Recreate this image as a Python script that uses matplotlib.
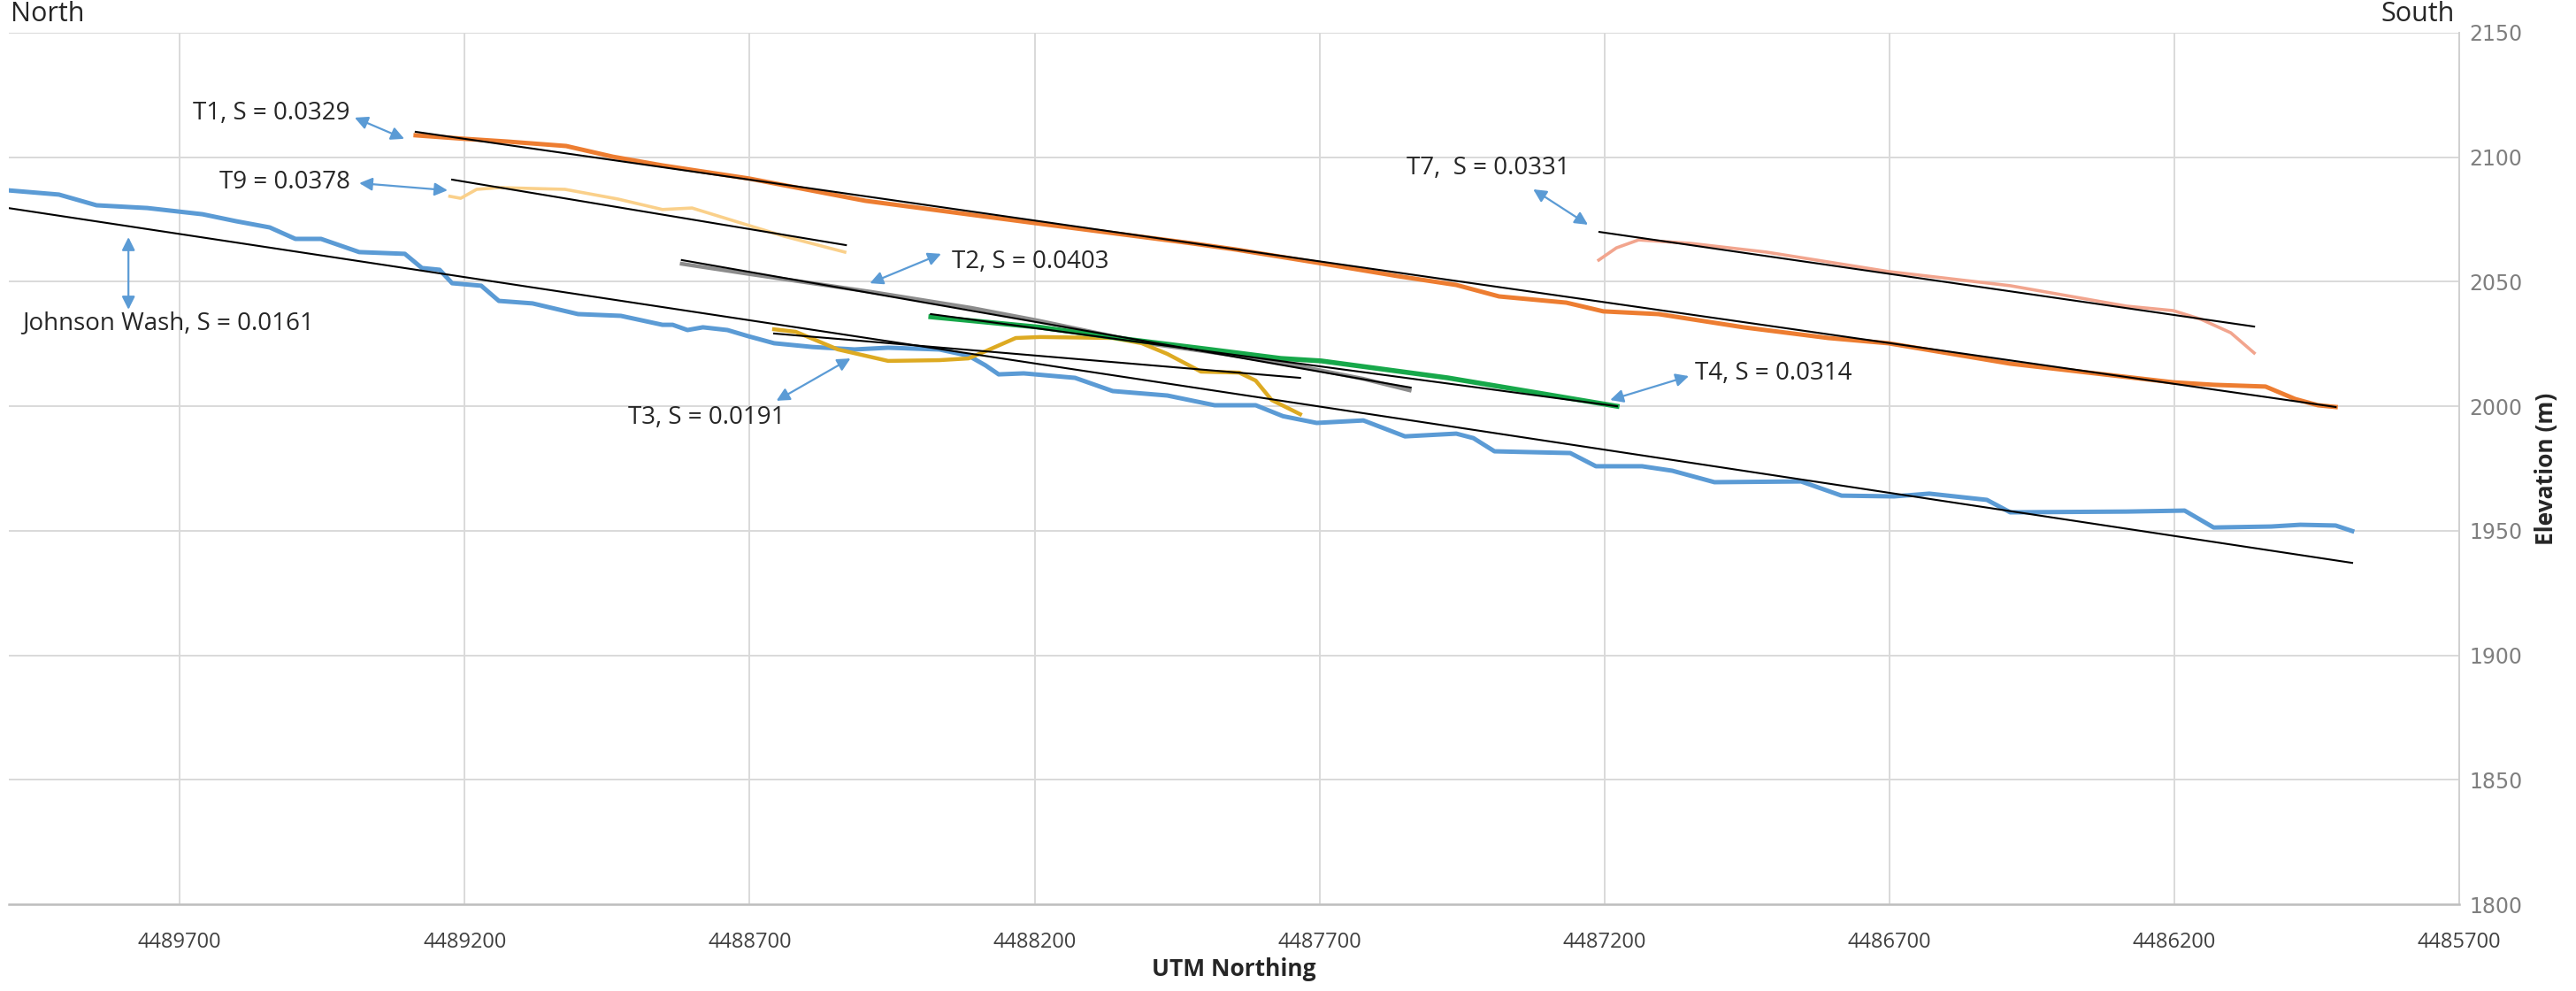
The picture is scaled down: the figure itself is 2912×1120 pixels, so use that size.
import numpy as np
import matplotlib
matplotlib.use("Agg")
import matplotlib.pyplot as plt

NARROW = ["Liberation Sans Narrow", "Open Sans", "DejaVu Sans"]

# Johnson Wash main channel profile (UTM northing, elevation m)
jw_x = [4490001, 4489912, 4489846, 4489757, 4489660, 4489601, 4489542, 4489497,
        4489452, 4489385, 4489305, 4489275, 4489244, 4489222, 4489171, 4489140,
        4489081, 4489001, 4488926, 4488853, 4488835, 4488809, 4488782, 4488739,
        4488702, 4488657, 4488590, 4488516, 4488457, 4488367, 4488316, 4488286,
        4488263, 4488219, 4488129, 4488063, 4487967, 4487884, 4487812, 4487764,
        4487705, 4487623, 4487550, 4487460, 4487430, 4487393, 4487260, 4487215,
        4487134, 4487081, 4487007, 4486855, 4486784, 4486692, 4486630, 4486529,
        4486488, 4486284, 4486182, 4486131, 4486030, 4485979, 4485917, 4485888]
jw_y = [2086.7, 2085.0, 2080.7, 2079.6, 2077.1, 2074.3, 2071.8, 2067.2,
        2067.2, 2061.9, 2061.2, 2055.5, 2054.8, 2049.4, 2048.4, 2042.3,
        2041.3, 2037.0, 2036.3, 2032.7, 2032.7, 2030.6, 2031.7, 2030.6,
        2028.1, 2025.3, 2023.8, 2022.8, 2023.5, 2022.8, 2020.3, 2016.4,
        2012.8, 2013.2, 2011.4, 2006.1, 2004.3, 2000.4, 2000.4, 1996.0,
        1993.3, 1994.3, 1987.9, 1989.0, 1987.2, 1981.9, 1981.2, 1975.9,
        1975.9, 1974.1, 1969.5, 1969.8, 1964.1, 1963.8, 1964.9, 1962.4,
        1957.4, 1957.7, 1958.1, 1951.3, 1951.7, 1952.4, 1952.1, 1949.9]

# terrace profiles
t1_x = [4489286, 4489201, 4489126, 4489022, 4488940, 4488853, 4488700, 4488497,
        4488201, 4487923, 4487846, 4487703, 4487564, 4487460, 4487385, 4487267,
        4487202, 4487105, 4486956, 4486807, 4486702, 4486488, 4486202, 4486131,
        4486040, 4485988, 4485948, 4485917]
t1_y = [2108.8, 2107.4, 2106.3, 2104.5, 2100.2, 2096.7, 2091.4, 2082.5,
        2073.6, 2065.4, 2062.9, 2057.6, 2052.3, 2048.7, 2044.1, 2041.6,
        2038.1, 2037.0, 2031.7, 2027.4, 2025.3, 2017.1, 2009.6, 2008.6,
        2007.9, 2002.9, 2000.4, 1999.7]

t9_x = [4489226, 4489207, 4489179, 4489140, 4489024, 4488931, 4488853, 4488801,
        4488700, 4488640, 4488533]
t9_y = [2084.3, 2083.5, 2087.1, 2087.8, 2087.1, 2083.2, 2079.0, 2079.6,
        2072.5, 2068.3, 2061.9]

t2_x = [4488819, 4488698, 4488486, 4488311, 4488196, 4488004, 4487846, 4487734,
        4487623, 4487542]
t2_y = [2057.2, 2053.0, 2045.9, 2039.5, 2034.5, 2025.3, 2020.3, 2016.0,
        2011.0, 2006.4]

t3_x = [4488657, 4488619, 4488545, 4488457, 4488367, 4488316, 4488286, 4488233,
        4488190, 4488063, 4488012, 4487967, 4487908, 4487841, 4487812, 4487784,
        4487734]
t3_y = [2030.9, 2029.9, 2022.8, 2018.2, 2018.5, 2019.2, 2022.1, 2027.4,
        2027.8, 2027.4, 2025.3, 2021.0, 2013.9, 2013.5, 2010.3, 2002.5,
        1996.8]

t4_x = [4488382, 4488190, 4488041, 4487892, 4487768, 4487697, 4487475, 4487326,
        4487178]
t4_y = [2035.9, 2031.7, 2027.0, 2022.8, 2019.2, 2018.2, 2011.4, 2005.7,
        2000.0]

t7_x = [4487210, 4487179, 4487140, 4487049, 4486916, 4486702, 4486488, 4486284,
        4486202, 4486153, 4486101, 4486060]
t7_y = [2058.7, 2063.6, 2066.8, 2065.4, 2061.9, 2054.1, 2048.4, 2040.2,
        2038.4, 2034.9, 2029.5, 2021.4]

# linear trend endpoints for each profile
trend_x = {"JW": [4490001, 4485888], "T1": [4489286, 4485917], "T9": [4489222, 4488531],
           "T2": [4488819, 4487540], "T3": [4488657, 4487734], "T4": [4488382, 4487178],
           "T7": [4487209, 4486060]}
trend_y = {"JW": [2079.6, 1937.1], "T1": [2110.2, 1999.7], "T9": [2091.0, 2064.7],
           "T2": [2058.7, 2007.5], "T3": [2029.2, 2011.4], "T4": [2037.0, 2000.0],
           "T7": [2070.0, 2032.0]}

labels = ["T1, S = 0.0329", "T9 = 0.0378", "Johnson Wash, S = 0.0161", "T2, S = 0.0403",
          "T3, S = 0.0191", "T4, S = 0.0314", "T7,  S = 0.0331"]

x_ticks = [4489700, 4489200, 4488700, 4488200, 4487700, 4487200, 4486700, 4486200, 4485700]
y_ticks = [1800, 1850, 1900, 1950, 2000, 2050, 2100, 2150]

fig = plt.figure(figsize=(14.56, 5.6), dpi=200)
ax = fig.add_axes([0.0034, 0.0875, 0.9513, 0.8795])

ax.plot(jw_x, jw_y, color="#5B9BD5", lw=1.8, zorder=3)
ax.plot(t9_x, t9_y, color="#FAD08A", lw=1.3, zorder=3)
ax.plot(t1_x, t1_y, color="#ED7D31", lw=1.8, zorder=3)
ax.plot(t2_x, t2_y, color="#8C8C8C", lw=1.6, zorder=3)
ax.plot(t3_x, t3_y, color="#DDAA22", lw=1.6, zorder=3)
ax.plot(t4_x, t4_y, color="#17A84A", lw=2.0, zorder=3)
ax.plot(t7_x, t7_y, color="#F2A58E", lw=1.3, zorder=3)
for key in trend_x:
    ax.plot(trend_x[key], trend_y[key], color="black", lw=0.75, zorder=4)

# annotation text and double-headed arrows
ann = [
    (labels[0], (4489401, 2117.6), "right", (4489393, 2115.9), (4489306, 2107.4)),
    (labels[1], (4489401, 2090.0), "right", (4489385, 2089.6), (4489230, 2086.7)),
    (labels[2], (4489976, 2033.4), "left", (4489790, 2067.9), (4489790, 2038.8)),
    (labels[3], (4488345, 2058.0), "left", (4488489, 2049.4), (4488364, 2061.2)),
    (labels[4], (4488638, 1995.4), "right", (4488653, 2002.2), (4488523, 2019.2)),
    (labels[5], (4487041, 2013.2), "left", (4487190, 2002.5), (4487052, 2012.1)),
    (labels[6], (4487260, 2095.6), "right", (4487325, 2087.1), (4487229, 2072.9)),
]
for text, (tx, ty), ha, a0, a1 in ann:
    ax.text(tx, ty, text, ha=ha, va="center", fontsize=10, family=NARROW,
            color="#262626", zorder=5)
    ax.annotate("", xy=a1, xytext=a0,
                arrowprops=dict(arrowstyle="<|-|>", color="#5B9BD5", lw=0.8,
                                mutation_scale=11, shrinkA=0, shrinkB=0), zorder=5)

ax.set_xlim(4490000, 4485700)
ax.set_ylim(1800, 2150)
ax.set_xticks(x_ticks)
ax.set_yticks(y_ticks)
ax.set_xticklabels([str(v) for v in x_ticks], family=NARROW, fontsize=8.5, color="#404040")
ax.yaxis.tick_right()
ax.yaxis.set_label_position("right")
ax.set_yticklabels([str(v) for v in y_ticks], family="DejaVu Sans", fontsize=8.5, color="#7F7F7F")
ax.tick_params(axis="x", length=0, pad=11)
ax.tick_params(axis="y", length=0, pad=4)
ax.grid(True, color="#D9D9D9", lw=0.7, zorder=0)
for side in ["left", "top"]:
    ax.spines[side].set_visible(False)
ax.spines["bottom"].set_color("#BFBFBF")
ax.spines["right"].set_color("#D0D0D0")
ax.spines["bottom"].set_linewidth(0.9)
ax.spines["right"].set_linewidth(0.7)

ax.set_xlabel("UTM Northing", family=NARROW, fontsize=9.5, fontweight="bold",
              color="#262626", labelpad=2)
ax.set_ylabel("Elevation (m)", family=NARROW, fontsize=9.5, fontweight="bold",
              color="#262626", labelpad=5)

fig.text(0.004, 0.986, "North", family=NARROW, fontsize=11, color="#262626",
         ha="left", va="center")
fig.text(0.953, 0.986, "South", family=NARROW, fontsize=11, color="#262626",
         ha="right", va="center")

fig.savefig("out.png", dpi=200, facecolor="white")
